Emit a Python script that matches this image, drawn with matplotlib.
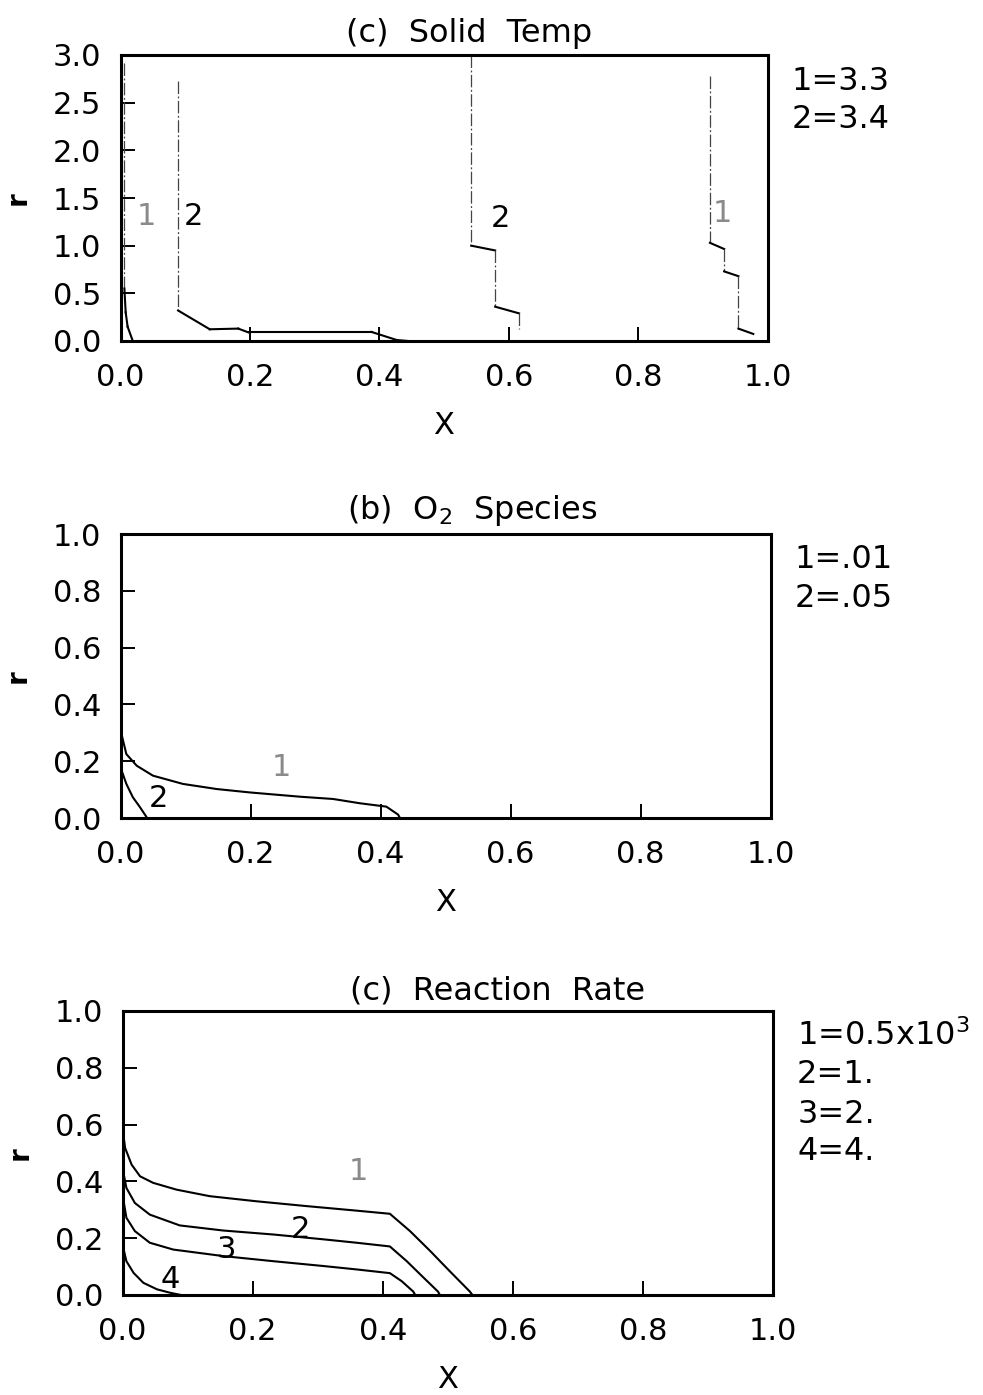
import numpy as np
import matplotlib
matplotlib.use('Agg')
import matplotlib.pyplot as plt

plt.rcParams['font.family'] = ['DejaVu Sans']
plt.rcParams['mathtext.fontset'] = 'dejavusans'

# ---- (c) Solid Temp : contour lines, (x, r) points ----
temp_c1_left_x = [0.006, 0.006, 0.008, 0.011, 0.019]
temp_c1_left_r = [2.92, 0.55, 0.30, 0.15, 0.0]
temp_c2_left_x = [0.089, 0.089, 0.138, 0.182, 0.199, 0.199, 0.388, 0.427, 0.445]
temp_c2_left_r = [2.73, 0.32, 0.123, 0.13, 0.087, 0.095, 0.095, 0.01, 0.0]
temp_c2_right_x = [0.542, 0.542, 0.579, 0.579, 0.616, 0.616]
temp_c2_right_r = [3.0, 1.0, 0.95, 0.36, 0.29, 0.13]
temp_c1_right_x = [0.911, 0.911, 0.933, 0.933, 0.955, 0.955, 0.978]
temp_c1_right_r = [2.78, 1.03, 0.965, 0.73, 0.68, 0.13, 0.074]
temp_labels = ['1', '2', '2', '1']
temp_label_x = [0.040, 0.113, 0.588, 0.931]
temp_label_r = [1.31, 1.31, 1.29, 1.34]
temp_levels = ['1=3.3', '2=3.4']

# ---- (b) O2 Species ----
o2_c1_x = [0.0, 0.009, 0.025, 0.050, 0.096, 0.148, 0.199, 0.276, 0.327, 0.368, 0.409, 0.427, 0.430]
o2_c1_r = [0.31, 0.225, 0.184, 0.149, 0.120, 0.102, 0.090, 0.075, 0.067, 0.052, 0.040, 0.012, 0.0]
o2_c2_x = [0.0, 0.009, 0.019, 0.030, 0.041]
o2_c2_r = [0.178, 0.12, 0.073, 0.038, 0.0]
o2_labels = ['1', '2']
o2_label_x = [0.248, 0.058]
o2_label_r = [0.178, 0.067]
o2_levels = ['1=.01', '2=.05']

# ---- (c) Reaction Rate ----
rr_c1_x = [0.0, 0.004, 0.014, 0.027, 0.047, 0.083, 0.134, 0.206, 0.283, 0.360, 0.411, 0.442, 0.473, 0.503, 0.534, 0.538]
rr_c1_r = [0.588, 0.518, 0.459, 0.418, 0.395, 0.371, 0.348, 0.330, 0.313, 0.297, 0.286, 0.225, 0.155, 0.084, 0.012, 0.0]
rr_c2_x = [0.0, 0.006, 0.019, 0.042, 0.088, 0.155, 0.232, 0.309, 0.360, 0.411, 0.437, 0.462, 0.485, 0.488]
rr_c2_r = [0.447, 0.377, 0.324, 0.283, 0.245, 0.227, 0.213, 0.196, 0.184, 0.171, 0.119, 0.063, 0.012, 0.0]
rr_c3_x = [0.0, 0.006, 0.019, 0.042, 0.078, 0.155, 0.232, 0.309, 0.360, 0.411, 0.429, 0.447, 0.450]
rr_c3_r = [0.354, 0.272, 0.225, 0.184, 0.160, 0.137, 0.119, 0.102, 0.090, 0.077, 0.049, 0.012, 0.0]
rr_c4_x = [0.0, 0.006, 0.017, 0.032, 0.053, 0.073, 0.090]
rr_c4_r = [0.178, 0.119, 0.078, 0.043, 0.020, 0.008, 0.0]
rr_labels = ['1', '2', '3', '4']
rr_label_x = [0.362, 0.273, 0.160, 0.073]
rr_label_r = [0.434, 0.229, 0.161, 0.055]
rr_levels = ['1=0.5x10$^3$', '2=1.', '3=2.', '4=4.']

x_ticks = [0.0, 0.2, 0.4, 0.6, 0.8, 1.0]
temp_r_ticks = [0.0, 0.5, 1.0, 1.5, 2.0, 2.5, 3.0]
unit_r_ticks = [0.0, 0.2, 0.4, 0.6, 0.8, 1.0]

FS = 22          # tick labels, axis label, curve labels
FS_BIG = 23      # titles and level keys
LABEL_GRAY = '#8a8a8a'
LW = 1.5

W, H = 983, 1395
fig = plt.figure(figsize=(W / 100, H / 100), dpi=100)


def px_axes(left, top, right, bottom):
    return fig.add_axes([left / W, 1 - bottom / H, (right - left) / W, (bottom - top) / H])


def style_axes(ax, r_max, r_ticks, title, title_gap, levels, level_base):
    ax.set_xlim(0, 1)
    ax.set_ylim(0, r_max)
    ax.set_xticks(x_ticks)
    ax.set_yticks(r_ticks)
    ax.set_xticklabels(['%.1f' % t for t in x_ticks])
    ax.set_yticklabels(['%.1f' % t for t in r_ticks])
    for s in ax.spines.values():
        s.set_linewidth(2.2)
    ax.tick_params(direction='in', length=10, width=1.4, labelsize=FS,
                   top=False, right=False)
    ax.tick_params(axis='x', pad=16)
    ax.tick_params(axis='y', pad=14)
    # the 0.4 tick is barely visible on the plot
    ax.xaxis.get_major_ticks()[2].tick1line.set_color('#d0d0d0')
    ax.set_xlabel('X', fontsize=FS)
    ax.xaxis.set_label_coords(0.5, -0.245)
    ax.set_ylabel('r', fontsize=20, fontweight='bold')
    ax.yaxis.set_label_coords(-0.137, 0.5)
    h = ax.get_position().height * H
    ax.text(0.349, 1 + title_gap / h, title, transform=ax.transAxes,
            ha='left', va='baseline', fontsize=FS_BIG)
    for lev, yb in zip(levels, level_base):
        ax.text(1.037, yb, lev, transform=ax.transAxes, ha='left',
                va='baseline', fontsize=FS_BIG)


def contour_line(ax, xs, rs):
    # vertical runs come out broken on the plotter, slanted ones solid
    for i in range(len(xs) - 1):
        seg_x = [xs[i], xs[i + 1]]
        seg_r = [rs[i], rs[i + 1]]
        if xs[i] == xs[i + 1]:
            ax.plot(seg_x, seg_r, color='#444444', lw=0.9,
                    linestyle=(0, (10, 2, 1.5, 2)), solid_capstyle='butt')
        else:
            ax.plot(seg_x, seg_r, color='black', lw=LW)


# (c) Solid Temp
ax1 = px_axes(120.5, 55, 767.5, 341)
style_axes(ax1, 3.0, temp_r_ticks, '(c)  Solid  Temp', 13, temp_levels, [0.878, 0.745])
contour_line(ax1, temp_c1_left_x, temp_c1_left_r)
contour_line(ax1, temp_c2_left_x, temp_c2_left_r)
contour_line(ax1, temp_c2_right_x, temp_c2_right_r)
contour_line(ax1, temp_c1_right_x, temp_c1_right_r)
for lab, lx, lr in zip(temp_labels, temp_label_x, temp_label_r):
    ax1.text(lx, lr, lab, fontsize=FS, ha='center', va='center',
             color=LABEL_GRAY if lab == '1' else 'black')

# (b) O2 Species
ax2 = px_axes(120.5, 534, 770.5, 818)
style_axes(ax2, 1.0, unit_r_ticks, '(b)  O$_2$  Species', 15, o2_levels, [0.880, 0.743])
ax2.plot(o2_c1_x, o2_c1_r, color='black', lw=LW)
ax2.plot(o2_c2_x, o2_c2_r, color='black', lw=LW)
for lab, lx, lr in zip(o2_labels, o2_label_x, o2_label_r):
    ax2.text(lx, lr, lab, fontsize=FS, ha='center', va='center',
             color=LABEL_GRAY if lab == '1' else 'black')

# (c) Reaction Rate
ax3 = px_axes(122.5, 1011, 773, 1295)
style_axes(ax3, 1.0, unit_r_ticks, '(c)  Reaction  Rate', 11, rr_levels,
           [0.880, 0.746, 0.606, 0.475])
for xs, rs in [(rr_c1_x, rr_c1_r), (rr_c2_x, rr_c2_r), (rr_c3_x, rr_c3_r), (rr_c4_x, rr_c4_r)]:
    ax3.plot(xs, rs, color='black', lw=LW)
for lab, lx, lr in zip(rr_labels, rr_label_x, rr_label_r):
    ax3.text(lx, lr, lab, fontsize=FS, ha='center', va='center',
             color=LABEL_GRAY if lab == '1' else 'black')

fig.savefig('out.png', dpi=100)
